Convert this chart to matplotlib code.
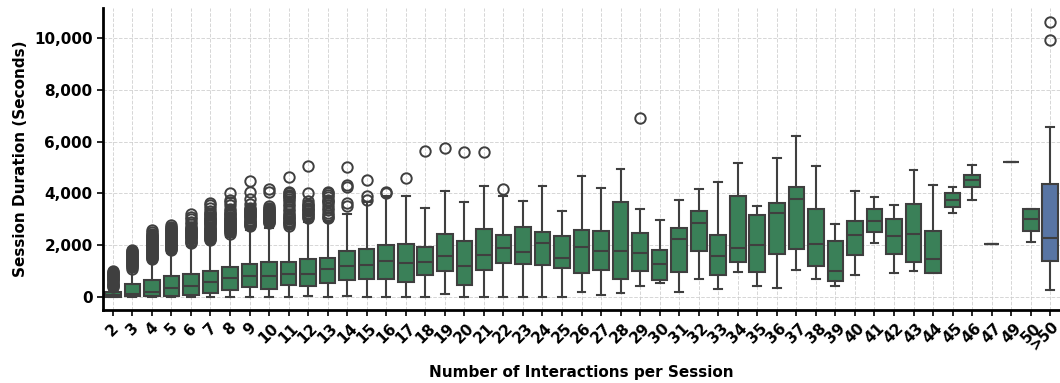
import matplotlib
matplotlib.use("Agg")
import matplotlib.pyplot as plt
from matplotlib.ticker import FuncFormatter

categories = [str(i) for i in range(2, 48)] + ["49", "50", ">50"]

q1 = [10, 25, 25, 25, 80, 140, 280, 370, 320, 450, 410, 530, 670, 690, 710, 580, 840, 1000, 450, 1060, 1320,
      1260, 1230, 1135, 915, 1045, 700, 1000, 645, 950, 1780, 850, 1340, 970, 1650, 1870, 1200, 630, 1610, 2520,
      1660, 1350, 930, 3480, 4260, 2050, 5210, 2530, 1400]
med = [75, 110, 200, 340, 430, 590, 720, 815, 820, 870, 900, 1075, 1205, 1230, 1390, 1320, 1370, 1570, 1200, 1630, 1880,
       1750, 2100, 1500, 1935, 1790, 1790, 1715, 1280, 2220, 2840, 1570, 1900, 2010, 3225, 3790, 2050, 1020, 2400, 2940,
       2350, 2450, 1460, 3750, 4500, 2050, 5210, 3000, 2260]
q3 = [210, 520, 650, 815, 895, 1000, 1160, 1285, 1370, 1370, 1455, 1500, 1765, 1870, 2000, 2040, 1935, 2450, 2170, 2620, 2400,
      2700, 2490, 2350, 2580, 2530, 3660, 2480, 1830, 2670, 3320, 2400, 3910, 3170, 3610, 4260, 3400, 2170, 2950, 3400,
      3000, 3600, 2540, 4000, 4700, 2050, 5210, 3390, 4350]
whislo = [0, 0, 0, 0, 0, 0, 0, 0, 0, 0, 30, 0, 30, 0, 0, 0, 0, 115, 0, 0, 0,
          0, 0, 0, 195, 65, 155, 410, 530, 180, 710, 320, 970, 410, 360, 1060, 710, 410, 840, 2090,
          930, 1000, 930, 3260, 3740, 2050, 5210, 2140, 280]
whishi = [380, 1050, 1400, 1700, 1950, 2080, 2300, 2600, 2650, 2650, 2900, 2950, 3220, 3650, 3900, 3910, 3440, 4100, 3660, 4270, 3880,
          3720, 4270, 3320, 4660, 4220, 4950, 3400, 2970, 3750, 4180, 4450, 5190, 3530, 5350, 6220, 5040, 2830, 4100, 3870,
          3560, 4900, 4310, 4260, 5100, 2050, 5210, 3390, 6570]
fliers = {
    "2": [400, 440, 480, 520, 560, 600, 640, 680, 720, 760, 800, 840, 880, 920, 960, 990],
    "3": [1100, 1140, 1180, 1220, 1260, 1300, 1340, 1380, 1420, 1460, 1500, 1540, 1580, 1620, 1660, 1700,
          1740, 1780, 1810],
    "4": [1450, 1490, 1530, 1570, 1610, 1650, 1690, 1730, 1770, 1810, 1850, 1890, 1930, 1970, 2010, 2050,
          2090, 2130, 2170, 2210, 2250, 2290, 2330, 2370, 2410, 2450, 2500, 2600],
    "5": [1800, 1840, 1880, 1920, 1960, 2000, 2040, 2080, 2120, 2160, 2200, 2240, 2280, 2320, 2360, 2400,
          2440, 2480, 2520, 2560, 2600, 2640, 2680, 2720, 2780],
    "6": [2100, 2140, 2180, 2220, 2260, 2300, 2340, 2380, 2420, 2460, 2500, 2540, 2580, 2620, 2660, 2700,
          2800, 2900, 3000, 3100, 3200],
    "7": [2200, 2240, 2280, 2320, 2360, 2400, 2440, 2480, 2520, 2560, 2600, 2640, 2680, 2720, 2760, 2800,
          2840, 2880, 2920, 2960, 3000, 3050, 3100, 3150, 3200, 3260, 3300, 3450, 3550, 3620],
    "8": [2450, 2490, 2530, 2570, 2610, 2650, 2690, 2730, 2770, 2810, 2850, 2890, 2930, 2970, 3010, 3050,
          3100, 3150, 3200, 3250, 3300, 3400, 3550, 3650, 3750, 4000],
    "9": [2750, 2790, 2830, 2870, 2910, 2950, 2990, 3030, 3070, 3110, 3150, 3190, 3230, 3270, 3310, 3350,
          3400, 3450, 3600, 3800, 4050, 4480],
    "10": [2850, 2890, 2930, 2970, 3010, 3050, 3090, 3130, 3170, 3210, 3250, 3290, 3330, 3370, 3410, 3450,
           3500, 4050, 4180],
    "11": [2750, 2800, 2850, 2900, 2950, 3000, 3050, 3100, 3150, 3200, 3300, 3400, 3500, 3600, 3700, 3800,
           3850, 3900, 3950, 4000, 4050, 4620],
    "12": [3050, 3100, 3150, 3200, 3250, 3300, 3350, 3400, 3450, 3500, 3550, 3600, 3700, 4000, 5050],
    "13": [3050, 3100, 3150, 3250, 3350, 3450, 3550, 3650, 3700, 3750, 3850, 3950, 4000, 4050],
    "14": [3500, 3620, 4250, 4320, 5000],
    "15": [3750, 3900, 4500],
    "16": [4000, 4050],
    "17": [4600],
    "18": [5650],
    "19": [5750],
    "20": [5580],
    "21": [5580],
    "22": [4180],
    "29": [6900],
    ">50": [9920, 10600],
}

green = "#3A8058"
blue = "#5875A4"
line_c = "#3f3f3f"

stats = []
for i, c in enumerate(categories):
    stats.append(dict(label=c, q1=q1[i], med=med[i], q3=q3[i],
                      whislo=whislo[i], whishi=whishi[i], fliers=fliers.get(c, [])))

fig = plt.figure(figsize=(10.6, 3.83), dpi=100)
ax = fig.add_axes([0.0972, 0.1906, 0.9028, 0.7885])

bp = ax.bxp(stats, positions=range(len(categories)), widths=0.8, patch_artist=True,
            boxprops=dict(edgecolor=line_c, linewidth=1.5),
            whiskerprops=dict(color=line_c, linewidth=1.5),
            capprops=dict(color=line_c, linewidth=1.5),
            medianprops=dict(color=line_c, linewidth=1.5),
            flierprops=dict(marker="o", markerfacecolor="none", markeredgecolor=line_c,
                            markersize=7.5, markeredgewidth=1.4))
for i, b in enumerate(bp["boxes"]):
    b.set_facecolor(blue if categories[i] == ">50" else green)

ax.set_xlim(-0.5, len(categories) - 0.5)
ax.set_ylim(-500, 11150)
ax.set_yticks([0, 2000, 4000, 6000, 8000, 10000])
ax.yaxis.set_major_formatter(FuncFormatter(lambda v, p: f"{int(v):,}"))
ax.set_xticks(range(len(categories)))
tick_labels = categories[:-1] + [""]
ax.set_xticklabels(tick_labels, rotation=45, fontsize=11, fontweight="bold")
for t in ax.get_yticklabels():
    t.set_fontweight("bold")
    t.set_fontsize(11)

# last category label drawn slightly shifted left so it stays inside the figure
ax.annotate(categories[-1], xy=(len(categories) - 1, 0), xycoords=("data", "axes fraction"),
            xytext=(-4, -6.4), textcoords="offset points", rotation=45,
            ha="center", va="top", fontsize=11, fontweight="bold", annotation_clip=False)

ax.grid(True, linestyle="--", color="#cccccc", linewidth=0.7, alpha=0.8)
ax.set_axisbelow(True)
for s in ["top", "right"]:
    ax.spines[s].set_visible(False)
for s in ["left", "bottom"]:
    ax.spines[s].set_linewidth(2.0)
    ax.spines[s].set_color("black")
ax.tick_params(axis="both", width=1.2, length=4)

ax.set_xlabel("Number of Interactions per Session", fontsize=11, fontweight="bold")
ax.xaxis.set_label_coords(0.5, -0.183)
ax.set_ylabel("Session Duration (Seconds)", fontsize=11, fontweight="bold")

fig.savefig("out.png", dpi=100)
